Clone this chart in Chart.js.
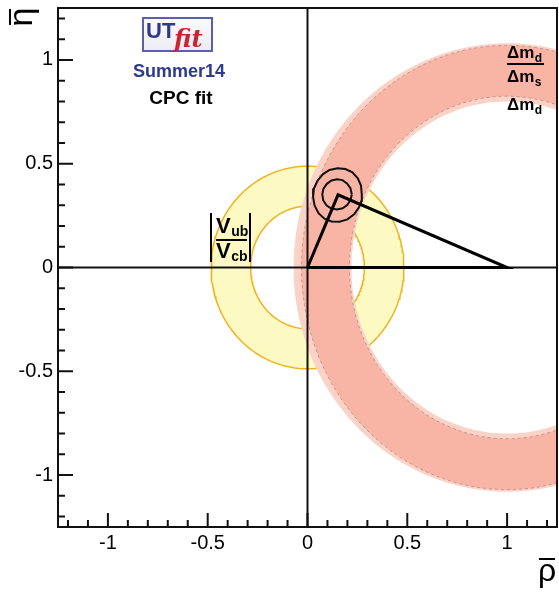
<!DOCTYPE html>
<html>
<head>
<meta charset="utf-8">
<script src="https://cdn.jsdelivr.net/npm/chart.js@4.4.0/dist/chart.umd.min.js"></script>
<style>
  html, body { margin: 0; padding: 0; background: #fff; }
  canvas { display: block; }
</style>
</head>
<body>
<canvas id="utChart" width="559" height="592"></canvas>
<script>
// axis range and ticks (rho-bar / eta-bar)
const axisRange = [-1.25, 1.25];
const majorTicks = [-1, -0.5, 0, 0.5, 1];
const xTickLabels = ['-1', '-0.5', '0', '0.5', '1'];
const yTickLabels = ['-1', '-0.5', '0', '0.5', '1'];
const minorTicks = [-1.2, -1.1, -0.9, -0.8, -0.7, -0.6, -0.4, -0.3, -0.2, -0.1,
                    0.1, 0.2, 0.3, 0.4, 0.6, 0.7, 0.8, 0.9, 1.1, 1.2];

// |Vub/Vcb| ring around the origin: [rx, ry]
const vubCentre = [0, 0];
const vubInner = [0.285, 0.295];
const vubOuter = [0.483, 0.488];

// Δmd and Δmd/Δms bands around (1, 0): [rx, ry]
const dmCentre = [1, 0];
const dmdInner = [0.78, 0.80];
const dmdOuter = [1.07, 1.08];
const dmsInner = [0.79, 0.825];
const dmsOuter = [1.03, 1.07];

// fit contours (rho, eta)
const contour68 = [
    [0.222, 0.352], [0.215, 0.382], [0.198, 0.405], [0.175, 0.421], [0.148, 0.425],
    [0.120, 0.419], [0.097, 0.403], [0.080, 0.380], [0.074, 0.352], [0.079, 0.323],
    [0.095, 0.300], [0.119, 0.284], [0.148, 0.279], [0.176, 0.285], [0.199, 0.301],
    [0.215, 0.324], [0.222, 0.352]
];
const contour95 = [
    [0.272, 0.350], [0.268, 0.395], [0.252, 0.430], [0.225, 0.458], [0.190, 0.474],
    [0.150, 0.478], [0.110, 0.470], [0.078, 0.450], [0.050, 0.418], [0.032, 0.380],
    [0.028, 0.340], [0.035, 0.300], [0.055, 0.262], [0.085, 0.235], [0.120, 0.222],
    [0.160, 0.220], [0.200, 0.232], [0.235, 0.258], [0.258, 0.290], [0.270, 0.320],
    [0.272, 0.350]
];

// unitarity triangle apex
const apex = [0.153, 0.350];
const triangle = [[0, 0], [1, 0], apex, [0, 0]];

const toPoints = arr => arr.map(p => ({x: p[0], y: p[1]}));

function ellipse(centre, radii, reverse) {
    const pts = [];
    const steps = 240;
    for (let i = 0; i <= steps; i++) {
        const a = (reverse ? steps - i : i) / steps * 2 * Math.PI;
        pts.push({x: centre[0] + radii[0] * Math.cos(a), y: centre[1] + radii[1] * Math.sin(a)});
    }
    return pts;
}

function band(centre, inner, outer) {
    return ellipse(centre, outer, false).concat(ellipse(centre, inner, true));
}

function lineSet(data, color, width, order, extra) {
    return Object.assign({data, borderColor: color, borderWidth: width, fill: false,
        showLine: true, pointRadius: 0, order}, extra || {});
}

function fillSet(data, color, order) {
    return {data, backgroundColor: color, borderWidth: 0, borderColor: 'rgba(0,0,0,0)',
        fill: 'shape', showLine: true, pointRadius: 0, order};
}

function drawSub(ctx, main, sub, x, y, mainSize, subSize, subDrop) {
    ctx.font = `bold ${mainSize}px "Liberation Sans", Arial, sans-serif`;
    ctx.fillText(main, x, y);
    const w = ctx.measureText(main).width;
    ctx.font = `bold ${subSize}px "Liberation Sans", Arial, sans-serif`;
    ctx.fillText(sub, x + w + 0.5, y + subDrop);
    return w + 0.5 + ctx.measureText(sub).width;
}

const rootFrame = {
    id: 'rootFrame',
    afterDraw(chart) {
        const ctx = chart.ctx;
        const xs = chart.scales.x, ys = chart.scales.y;
        const {left, right, top, bottom} = chart.chartArea;
        ctx.save();
        ctx.strokeStyle = '#111';
        ctx.lineWidth = 2;
        ctx.strokeRect(left, top, right - left, bottom - top);

        ctx.beginPath();
        majorTicks.forEach(v => {
            const px = xs.getPixelForValue(v);
            ctx.moveTo(px, bottom); ctx.lineTo(px, bottom - 14);
            const py = ys.getPixelForValue(v);
            ctx.moveTo(left, py); ctx.lineTo(left + 15, py);
        });
        minorTicks.forEach(v => {
            const px = xs.getPixelForValue(v);
            ctx.moveTo(px, bottom); ctx.lineTo(px, bottom - 7);
            const py = ys.getPixelForValue(v);
            ctx.moveTo(left, py); ctx.lineTo(left + 7, py);
        });
        ctx.stroke();

        // axis titles
        ctx.fillStyle = '#000';
        ctx.font = '34px "Liberation Sans", Arial, sans-serif';
        ctx.textAlign = 'center';
        ctx.textBaseline = 'alphabetic';
        ctx.save();
        ctx.translate(32, 17);
        ctx.rotate(-Math.PI / 2);
        ctx.fillText('η', 0, 0);
        ctx.fillRect(-8, -23, 16, 2);
        ctx.restore();
        ctx.font = '32px "Liberation Sans", Arial, sans-serif';
        ctx.fillText('ρ', 547, 581);
        ctx.fillRect(539, 558, 16, 2);

        // UTfit logo
        const grad = ctx.createLinearGradient(0, 18, 0, 51);
        grad.addColorStop(0, '#fbfbfd');
        grad.addColorStop(1, '#ececf2');
        ctx.fillStyle = grad;
        ctx.fillRect(143, 18, 69, 33);
        ctx.strokeStyle = '#5c5fae';
        ctx.lineWidth = 2;
        ctx.strokeRect(143, 18, 69, 33);
        ctx.textAlign = 'left';
        ctx.fillStyle = '#2d3a8c';
        ctx.font = 'bold 22px "Liberation Sans", Arial, sans-serif';
        ctx.fillText('UT', 146, 38);
        ctx.fillStyle = '#cf2230';
        ctx.font = 'italic bold 24px "DejaVu Serif", serif';
        ctx.fillText('fit', 174, 47);
        ctx.textAlign = 'center';
        ctx.fillStyle = '#2e3b8c';
        ctx.font = 'bold 18px "Liberation Sans", Arial, sans-serif';
        ctx.fillText('Summer14', 179, 77);
        ctx.fillStyle = '#000';
        ctx.font = 'bold 19px "Liberation Sans", Arial, sans-serif';
        ctx.fillText('CPC fit', 181, 104);

        // |Vub / Vcb| label
        ctx.textAlign = 'left';
        ctx.fillRect(210, 213, 2, 49);
        ctx.fillRect(249, 213, 2, 49);
        drawSub(ctx, 'V', 'ub', 216, 233, 22, 14, 3);
        ctx.fillRect(216, 239, 31, 2);
        drawSub(ctx, 'V', 'cb', 216, 258, 22, 14, 3);

        // Δmd / Δms and Δmd labels
        drawSub(ctx, 'Δm', 'd', 507, 58, 17, 12, 4);
        ctx.fillRect(507, 63, 37, 2);
        drawSub(ctx, 'Δm', 's', 507, 82, 17, 12, 4);
        drawSub(ctx, 'Δm', 'd', 507, 110, 17, 12, 4);
        ctx.restore();
    }
};

const tickFont = {family: '"Liberation Sans", Arial, sans-serif', size: 20};

function noPadding(s) {
    s.paddingTop = 0; s.paddingBottom = 0;
    s.paddingLeft = 0; s.paddingRight = 0;
}

const datasets = [
    lineSet(toPoints(triangle), '#000', 3, 1),
    lineSet(toPoints(contour68), '#111', 2, 2),
    lineSet(toPoints(contour95), '#111', 2, 2),
    lineSet([{x: 0, y: axisRange[0]}, {x: 0, y: axisRange[1]}], '#111', 2, 3),
    lineSet([{x: axisRange[0], y: 0}, {x: axisRange[1], y: 0}], '#111', 2, 3),
    lineSet(ellipse(dmCentre, dmsInner), '#c39592', 1, 8, {borderDash: [3, 3]}),
    lineSet(ellipse(dmCentre, dmsOuter), '#c39592', 1, 8, {borderDash: [3, 3]}),
    fillSet(band(dmCentre, dmsInner, dmsOuter), '#f8b4a4', 9),
    fillSet(band(dmCentre, dmdInner, dmdOuter), '#fbd3c6', 10),
    lineSet(ellipse(vubCentre, vubInner), '#f2b21e', 1.5, 11),
    lineSet(ellipse(vubCentre, vubOuter), '#f2b21e', 1.5, 11),
    fillSet(band(vubCentre, vubInner, vubOuter), '#fdf9c2', 12)
];

new Chart(document.getElementById('utChart'), {
    type: 'scatter',
    data: {datasets},
    options: {
        responsive: false,
        animation: false,
        events: [],
        layout: {padding: {top: 8, right: 2, left: 0, bottom: 0}},
        elements: {line: {tension: 0}, point: {radius: 0}},
        plugins: {legend: {display: false}, tooltip: {enabled: false}},
        scales: {
            x: {
                type: 'linear', min: axisRange[0], max: axisRange[1],
                grid: {display: false, drawTicks: false},
                border: {display: false},
                afterBuildTicks: s => { s.ticks = majorTicks.map(v => ({value: v})); },
                afterFit: s => { s.height = 65; noPadding(s); },
                ticks: {
                    padding: 4, color: '#000', font: tickFont, maxRotation: 0, autoSkip: false,
                    callback: (v, i) => xTickLabels[i]
                }
            },
            y: {
                type: 'linear', min: axisRange[0], max: axisRange[1],
                grid: {display: false, drawTicks: false},
                border: {display: false},
                afterBuildTicks: s => { s.ticks = majorTicks.map(v => ({value: v})); },
                afterFit: s => { s.width = 58; noPadding(s); },
                ticks: {
                    padding: 5, color: '#000', font: tickFont, autoSkip: false,
                    callback: (v, i) => yTickLabels[i]
                }
            }
        }
    },
    plugins: [rootFrame]
});
</script>
</body>
</html>
